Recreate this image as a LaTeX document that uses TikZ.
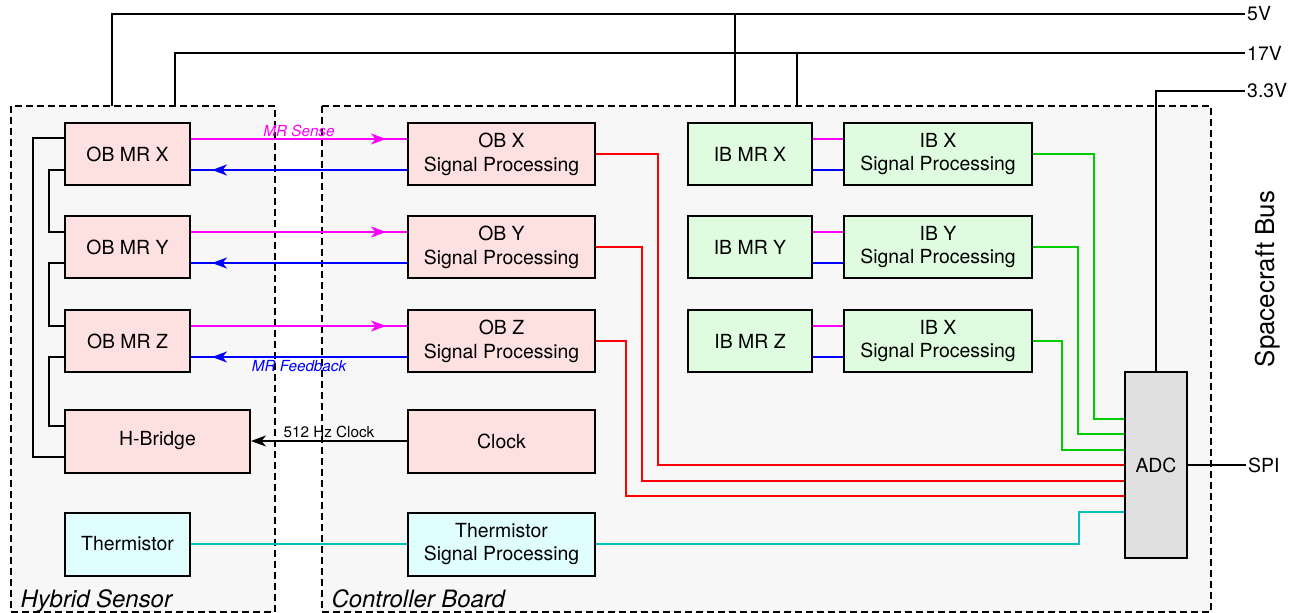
\documentclass[tikz,border=0pt]{standalone}
\usepackage{fontspec}
\setmainfont{TeX Gyre Heros}
\usetikzlibrary{arrows.meta,decorations.markings}

\definecolor{regionbg}{HTML}{F7F7F7}
\definecolor{obfill}{HTML}{FDE0E0}
\definecolor{ibfill}{HTML}{E0FCE0}
\definecolor{thfill}{HTML}{E0FEFE}
\definecolor{adcfill}{HTML}{E0E0E0}
\definecolor{sensecol}{HTML}{FF00FF}
\definecolor{fbcol}{HTML}{0000FF}
\definecolor{obline}{HTML}{FF0000}
\definecolor{ibline}{HTML}{00CC00}
\definecolor{thline}{HTML}{00C0C0}

\begin{document}
\begin{tikzpicture}[x=1bp,y=-1bp,
  every node/.style={font=\fontsize{19.5}{24}\selectfont},
  small/.style={font=\fontsize{15.3}{18}\selectfont},
  region/.style={fill=regionbg, line width=1.8bp, dash pattern=on 7bp off 4bp},
  block/.style={draw, line width=2bp, align=center, inner sep=0pt, minimum height=62bp},
  ob/.style={block, fill=obfill, minimum width=125bp},
  obsp/.style={block, fill=obfill, minimum width=187bp},
  ib/.style={block, fill=ibfill, minimum width=124bp},
  ibsp/.style={block, fill=ibfill, minimum width=188bp},
  wire/.style={line width=1.8bp},
  sense/.style={line width=2bp, sensecol},
  fback/.style={line width=2bp, fbcol},
  tip/.style={postaction={decorate}, decoration={markings,
    mark=at position -21bp with {\arrow{Stealth[length=15bp,width=11bp,inset=4.5bp]}}}},
  toadc/.style={line width=2bp}
]
\useasboundingbox (0,0) rectangle (1306,613);

% boards
\draw[region] (11,106) rectangle (275,612);
\draw[region] (322,106) rectangle (1211,612);
\node[font=\fontsize{24}{28}\selectfont\itshape, anchor=base west] (hslabel) at (17,607) {Hybrid Sensor};
\node[font=\fontsize{24}{28}\selectfont\itshape, anchor=base west] (cblabel) at (328,607) {Controller Board};
\node[font=\fontsize{26}{30}\selectfont, rotate=90] (bus) at (1268,279) {Spacecraft Bus};

% hybrid sensor
\node[ob] (obmrx) at (127.5,154) {OB MR X};
\node[ob] (obmry) at (127.5,247) {OB MR Y};
\node[ob] (obmrz) at (127.5,341) {OB MR Z};
\node[block, fill=obfill, minimum width=185bp, minimum height=63bp] (hbridge) at (157.5,441) {H-Bridge};
\node[block, fill=thfill, minimum width=125bp, minimum height=63bp] (therm) at (127.5,544) {Thermistor};

% controller board
\node[obsp] (obx) at (501.5,154) {OB X\\Signal Processing};
\node[obsp] (oby) at (501.5,247) {OB Y\\Signal Processing};
\node[obsp] (obz) at (501.5,341) {OB Z\\Signal Processing};
\node[obsp, minimum height=63bp] (clock) at (501.5,441) {Clock};
\node[obsp, fill=thfill, minimum height=63bp] (thsp) at (501.5,544) {Thermistor\\Signal Processing};

\node[ib] (ibmrx) at (750,154) {IB MR X};
\node[ib] (ibmry) at (750,247) {IB MR Y};
\node[ib] (ibmrz) at (750,341) {IB MR Z};
\node[ibsp] (ibx) at (938,154) {IB X\\Signal Processing};
\node[ibsp] (iby) at (938,247) {IB Y\\Signal Processing};
\node[ibsp] (ibz) at (938,341) {IB X\\Signal Processing};

\node[block, fill=adcfill, minimum width=62bp, minimum height=186bp] (adc) at (1156,465) {ADC};

% supply rails
\node[anchor=west, inner sep=2pt] (v5) at (1245,14) {5V};
\node[anchor=west, inner sep=2pt] (v17) at (1245,53) {17V};
\node[anchor=west, inner sep=2pt] (v33) at (1245,91) {3.3V};
\node[anchor=west, inner sep=2pt] (spi) at (1246,465) {SPI};
\coordinate (hs5) at (112,106);
\coordinate (hs17) at (175,106);
\coordinate (cb5) at (735,106);
\coordinate (cb17) at (797,106);
\draw[wire] (hs5) |- (v5.west);
\draw[wire] (hs17) |- (v17.west);
\draw[wire] (cb5) -- (cb5 |- v5.west);
\draw[wire] (cb17) -- (cb17 |- v17.west);
\draw[wire] (adc.north) |- (v33.west);
\draw[wire] (adc.east) -- (spi.west);

% coil drive chain
\draw[wire] ([yshift=16bp]obmrx.west) -- ++(-31,0) |- ([yshift=-16bp]hbridge.west);
\draw[wire] ([yshift=-16bp]obmrx.west) -- ++(-15,0) |- ([yshift=15bp]obmry.west);
\draw[wire] ([yshift=-16bp]obmry.west) -- ++(-15,0) |- ([yshift=15bp]obmrz.west);
\draw[wire] ([yshift=-16bp]obmrz.west) -- ++(-15,0) |- ([yshift=15bp]hbridge.west);

% sense and feedback
\draw[sense, tip] ([yshift=15bp]obmrx.east) -- node[above, font=\fontsize{15.3}{18}\selectfont\itshape, inner sep=1pt] {MR Sense} ([yshift=15bp]obx.west);
\draw[fback, tip] ([yshift=-16bp]obx.west) -- ([yshift=-16bp]obmrx.east);
\draw[sense, tip] ([yshift=15bp]obmry.east) -- ([yshift=15bp]oby.west);
\draw[fback, tip] ([yshift=-16bp]oby.west) -- ([yshift=-16bp]obmry.east);
\draw[sense, tip] ([yshift=15bp]obmrz.east) -- ([yshift=15bp]obz.west);
\draw[fback, tip] ([yshift=-16bp]obz.west) -- node[below, font=\fontsize{15.3}{18}\selectfont\itshape, inner sep=2pt] {MR Feedback} ([yshift=-16bp]obmrz.east);
\draw[wire, -{Stealth[length=15bp,width=11bp,inset=4.5bp]}] (clock.west) -- node[small, above, inner sep=2pt] {512 Hz Clock} (hbridge.east);

\draw[sense] ([yshift=15bp]ibmrx.east) -- ([yshift=15bp]ibx.west);
\draw[fback] ([yshift=-16bp]ibmrx.east) -- ([yshift=-16bp]ibx.west);
\draw[sense] ([yshift=15bp]ibmry.east) -- ([yshift=15bp]iby.west);
\draw[fback] ([yshift=-16bp]ibmry.east) -- ([yshift=-16bp]iby.west);
\draw[sense] ([yshift=15bp]ibmrz.east) -- ([yshift=15bp]ibz.west);
\draw[fback] ([yshift=-16bp]ibmrz.east) -- ([yshift=-16bp]ibz.west);

% into the ADC
\draw[toadc, ibline] (ibx.east) -- ++(61,0) |- ([yshift=46bp]adc.west);
\draw[toadc, ibline] (iby.east) -- ++(45,0) |- ([yshift=31bp]adc.west);
\draw[toadc, ibline] (ibz.east) -- ++(29,0) |- ([yshift=15bp]adc.west);
\draw[toadc, obline] (obx.east) -- ++(62,0) |- (adc.west);
\draw[toadc, obline] (oby.east) -- ++(46,0) |- ([yshift=-16bp]adc.west);
\draw[toadc, obline] (obz.east) -- ++(30,0) |- ([yshift=-31bp]adc.west);
\draw[toadc, thline] (therm.east) -- (thsp.west);
\draw[toadc, thline] (thsp.east) -- ++(483,0) |- ([yshift=-47bp]adc.west);

\end{tikzpicture}
\end{document}
